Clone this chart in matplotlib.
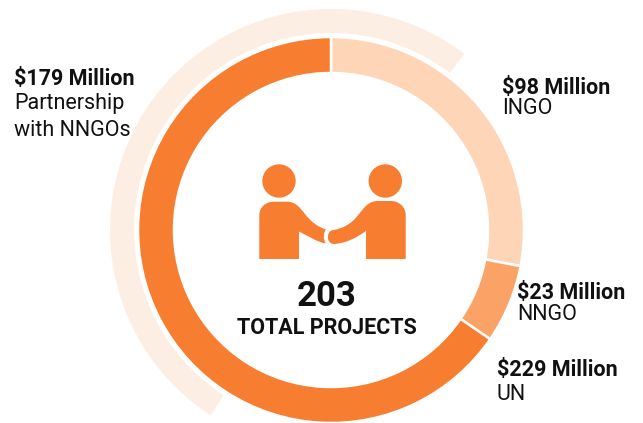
import matplotlib
matplotlib.use("Agg")
import matplotlib.pyplot as plt
from matplotlib import font_manager as fm
from matplotlib.path import Path
from matplotlib.patches import PathPatch, Circle

W, H = 643, 423
categories = ["INGO", "NNGO", "UN"]
amounts = [98, 23, 229]
amount_labels = ["$98 Million", "$23 Million", "$229 Million"]
partnership = 179
total_projects = 203
ring_colors = ["#FED5B6", "#FBA366", "#F77D30"]

names = {f.name for f in fm.fontManager.ttflist}
narrow = "Liberation Sans Narrow" if "Liberation Sans Narrow" in names else "Roboto"
print(narrow)

fig = plt.figure(figsize=(W / 100, H / 100), dpi=100, facecolor="white")
ax = fig.add_axes([0, 0, 1, 1])
cx, cy = 331, H - 230

ax.pie(amounts, colors=ring_colors, center=(cx, cy), radius=193, startangle=90,
       counterclock=False, wedgeprops=dict(width=36, edgecolor="white", linewidth=1.8))
ax.pie([partnership, sum(amounts) - partnership], colors=["#FDEEE4", "none"], center=(cx, cy),
       radius=221, startangle=90 - 213, counterclock=False, wedgeprops=dict(width=24, linewidth=0))
ax.set_xlim(0, W)
ax.set_ylim(0, H)
ax.set_aspect("equal")
ax.axis("off")

# handshake icon, authored in image pixels
Y = lambda y: H - y
orange = "#F77D30"
for hx in (279, 385.3):
    ax.add_patch(Circle((hx, Y(181)), 16.7, fc=orange, ec="none"))
M, L, C = Path.MOVETO, Path.LINETO, Path.CURVE4
left = [((259.3, 259), M), ((259.3, 215), L),
        ((259.3, 207), C), ((266, 201.7), C), ((274, 201.7), C),
        ((287, 201.7), L),
        ((296, 201.7), C), ((300, 208), C), ((305, 214), C),
        ((311, 222), C), ((318, 227), C), ((326, 229.5), C),
        ((323, 233), C), ((323, 240), C), ((326, 243.5), C),
        ((317, 242), C), ((308, 236), C), ((299, 231.5), C),
        ((299, 259), L), ((259.3, 259), L)]
right = [((405.7, 259), M), ((405.7, 215), L),
         ((405.7, 207), C), ((399, 201), C), ((391, 201), C),
         ((378, 201), L),
         ((368, 201), C), ((364, 208), C), ((359, 214), C),
         ((351, 225), C), ((341, 229), C), ((333, 230), C),
         ((326, 231), C), ((326, 244), C), ((334, 244), C),
         ((347, 243), C), ((356, 238), C), ((366, 231), C),
         ((366, 259), L), ((405.7, 259), L)]
for shape in (left, right):
    verts = [(x, Y(y)) for (x, y), _ in shape]
    ax.add_patch(PathPatch(Path(verts, [c for _, c in shape]), fc=orange, ec="none"))

ink = "#111111"
ax.text(327, Y(296), str(total_projects), ha="center", va="center", fontsize=25,
        fontweight="bold", family=narrow, color=ink)
ax.text(327, Y(328), "TOTAL PROJECTS", ha="center", va="center", fontsize=15.5,
        fontweight="bold", family=narrow, color=ink)

def label(x, y1, y2, head, sub):
    ax.text(x, Y(y1), head, ha="left", va="center", fontsize=15.5, fontweight="bold",
            family=narrow, color=ink)
    ax.text(x, Y(y2), sub, ha="left", va="center", fontsize=15.5, family=narrow, color=ink)

label(502, 88, 108, amount_labels[0], categories[0])
label(517, 293, 314, amount_labels[1], categories[1])
label(497, 370, 394, amount_labels[2], categories[2])
ax.text(14, Y(79), f"${partnership} Million", ha="left", va="center", fontsize=15.5,
        fontweight="bold", family=narrow, color=ink)
ax.text(14, Y(103), "Partnership", ha="left", va="center", fontsize=15.5, family=narrow, color=ink)
ax.text(14, Y(130), "with NNGOs", ha="left", va="center", fontsize=15.5, family=narrow, color=ink)

fig.savefig("out.png", dpi=100, facecolor="white")
